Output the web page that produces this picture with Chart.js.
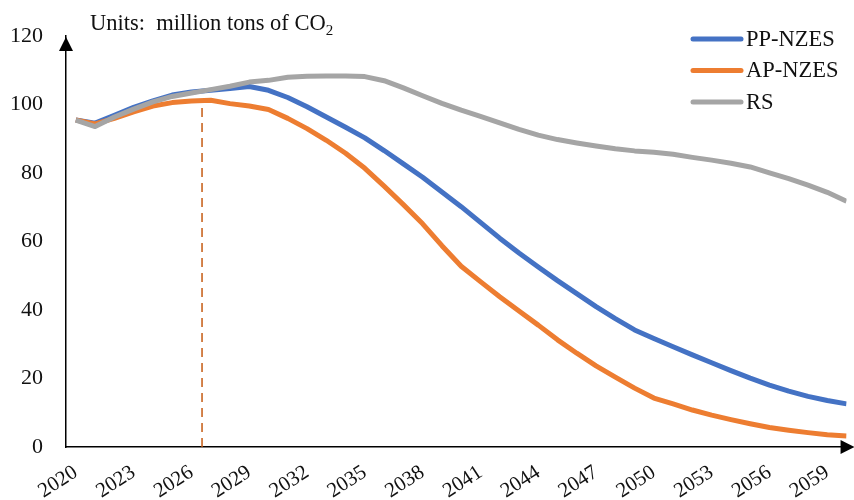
<!DOCTYPE html>
<html>
<head>
<meta charset="utf-8">
<script src="https://cdn.jsdelivr.net/npm/chart.js@4"></script>
<style>
  body { margin: 0; background: #fff; }
  #wrap { width: 854px; height: 500px; }
</style>
</head>
<body>
<div id="wrap"><canvas id="chart"></canvas></div>
<script>
const years = [
  2020, 2021, 2022, 2023, 2024, 2025, 2026, 2027, 2028, 2029,
  2030, 2031, 2032, 2033, 2034, 2035, 2036, 2037, 2038, 2039,
  2040, 2041, 2042, 2043, 2044, 2045, 2046, 2047, 2048, 2049,
  2050, 2051, 2052, 2053, 2054, 2055, 2056, 2057, 2058, 2059, 2060
];
const tickYears = [2020, 2023, 2026, 2029, 2032, 2035, 2038, 2041, 2044, 2047, 2050, 2053, 2056, 2059];

const ppNzes = [
  95.5, 94.6, 96.9, 99.2, 101.1, 102.8, 103.7, 104.2, 104.7, 105.3,
  104.2, 102.1, 99.4, 96.4, 93.4, 90.3, 86.6, 82.7, 78.8, 74.5,
  70.2, 65.6, 61.0, 56.7, 52.6, 48.6, 44.8, 41.0, 37.5, 34.2,
  31.7, 29.3, 26.9, 24.6, 22.3, 20.1, 18.1, 16.3, 14.8, 13.6, 12.6
];
const apNzes = [
  95.5, 94.4, 96.0, 97.9, 99.6, 100.6, 101.1, 101.3, 100.3, 99.6,
  98.6, 96.0, 93.0, 89.6, 85.8, 81.4, 76.2, 70.8, 65.2, 58.8,
  52.8, 48.3, 43.9, 39.7, 35.6, 31.3, 27.4, 23.7, 20.4, 17.2,
  14.3, 12.6, 10.8, 9.3, 8.0, 6.8, 5.7, 4.9, 4.2, 3.6, 3.2
];
const rs = [
  95.5, 93.6, 96.4, 98.7, 100.8, 102.4, 103.4, 104.4, 105.4, 106.6,
  107.1, 108.0, 108.3, 108.4, 108.4, 108.2, 107.0, 104.9, 102.6, 100.4,
  98.4, 96.6, 94.7, 92.8, 91.1, 89.8, 88.8, 87.9, 87.1, 86.5,
  86.1, 85.5, 84.6, 83.8, 82.9, 81.8, 80.1, 78.4, 76.5, 74.4, 71.8
];

// peak-year marker for AP-NZES
const markerYear = 2026.55;
const markerTop = 100.6;

const seriesNames = ["PP-NZES", "AP-NZES", "RS"];
const seriesColors = ["#4472C4", "#ED7D31", "#A5A5A5"];

const FONT = "'Liberation Serif', 'Times New Roman', serif";

function pts(vals) {
  return years.map((x, i) => ({ x: x, y: vals[i] }));
}

// axis arrows, unit note and legend
const decorations = {
  id: "decorations",
  afterDraw(chart) {
    const ctx = chart.ctx;
    const a = chart.chartArea;
    ctx.save();
    ctx.fillStyle = "#000";
    ctx.beginPath();
    ctx.moveTo(a.left, 37);
    ctx.lineTo(a.left - 7, 51);
    ctx.lineTo(a.left + 7, 51);
    ctx.closePath();
    ctx.fill();
    ctx.beginPath();
    ctx.moveTo(a.right + 8, a.bottom);
    ctx.lineTo(a.right - 6, a.bottom - 7);
    ctx.lineTo(a.right - 6, a.bottom + 7);
    ctx.closePath();
    ctx.fill();

    ctx.fillStyle = "#111";
    ctx.textBaseline = "alphabetic";
    ctx.textAlign = "left";
    ctx.font = "22.5px " + FONT;
    const unit = "Units:  million tons of CO";
    ctx.fillText(unit, 90, 30);
    const w = ctx.measureText(unit).width;
    ctx.font = "15px " + FONT;
    ctx.fillText("2", 90 + w, 35);

    ctx.font = "22.5px " + FONT;
    ctx.textBaseline = "middle";
    ctx.lineCap = "round";
    ctx.lineWidth = 5;
    seriesNames.forEach((name, i) => {
      const y = 39 + i * 31.5;
      ctx.strokeStyle = seriesColors[i];
      ctx.beginPath();
      ctx.moveTo(693, y);
      ctx.lineTo(741, y);
      ctx.stroke();
      ctx.fillStyle = "#111";
      ctx.fillText(name, 746, y + 1);
    });
    ctx.restore();
  }
};

const lineStyle = { borderWidth: 5, pointRadius: 0, tension: 0, fill: false, borderJoinStyle: "round" };

new Chart(document.getElementById("chart"), {
  type: "line",
  data: {
    datasets: [
      Object.assign({ label: seriesNames[0], data: pts(ppNzes), borderColor: seriesColors[0], order: 3 }, lineStyle),
      Object.assign({ label: seriesNames[1], data: pts(apNzes), borderColor: seriesColors[1], order: 2 }, lineStyle),
      Object.assign({ label: seriesNames[2], data: pts(rs), borderColor: seriesColors[2], order: 1 }, lineStyle),
      {
        label: "marker",
        data: [{ x: markerYear, y: 0 }, { x: markerYear, y: markerTop }],
        borderColor: "#C55A11",
        borderWidth: 1.5,
        borderDash: [9, 6],
        pointRadius: 0,
        order: 4
      }
    ]
  },
  options: {
    responsive: true,
    maintainAspectRatio: false,
    animation: false,
    layout: { padding: { top: 36, right: 0, left: 0, bottom: 0 } },
    plugins: { legend: { display: false }, tooltip: { enabled: false } },
    scales: {
      x: {
        type: "linear",
        min: 2019.49,
        max: 2060,
        afterBuildTicks(scale) {
          scale.ticks = tickYears.map(v => ({ value: v }));
        },
        afterFit(scale) { scale.height = 53; },
        grid: { display: false, drawTicks: false },
        border: { display: true, color: "#000", width: 1.5 },
        ticks: {
          autoSkip: false,
          minRotation: 33,
          maxRotation: 33,
          padding: 13,
          color: "#111",
          font: { family: FONT, size: 21 },
          callback: v => String(v)
        }
      },
      y: {
        min: 0,
        max: 120,
        afterFit(scale) { scale.width = 66; },
        grid: { display: false, drawTicks: false },
        border: { display: true, color: "#000", width: 1.5 },
        ticks: {
          stepSize: 20,
          padding: 23,
          color: "#111",
          font: { family: FONT, size: 22 }
        }
      }
    }
  },
  plugins: [decorations]
});
</script>
</body>
</html>
